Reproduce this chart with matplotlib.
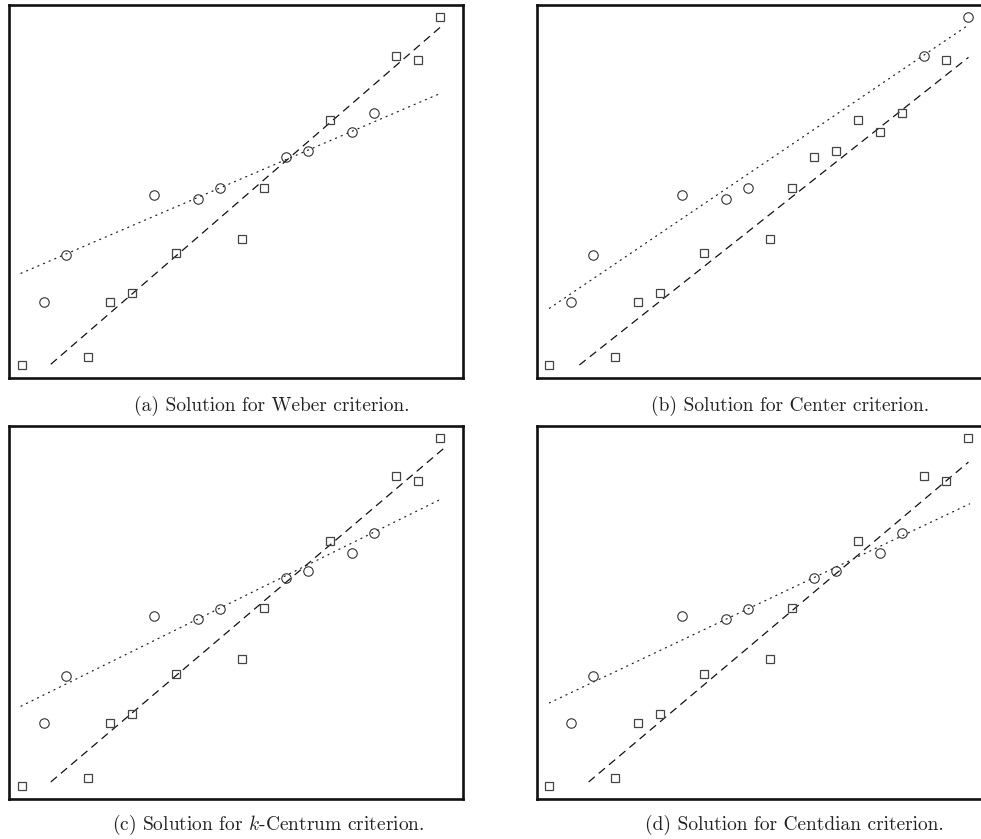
import matplotlib
matplotlib.use("Agg")
import matplotlib.pyplot as plt

plt.rcParams['mathtext.fontset'] = 'cm'
plt.rcParams['lines.scale_dashes'] = False

# ---- data ----
x_vals = [1, 2, 3, 4, 5, 6, 7, 8, 9, 10, 11, 12, 13, 14, 15, 16, 17, 18, 19, 20]
y_vals = [0.0, 3.64, 6.32, 0.48, 3.64, 4.12, 9.77, 6.42, 9.56, 10.16,
          7.26, 10.19, 11.94, 12.32, 14.08, 13.37, 14.50, 17.78, 17.53, 19.98]

# cluster membership per panel: 'o' = circle group, 's' = square group
groups_weber = ['s', 'o', 'o', 's', 's', 's', 'o', 's', 'o', 'o',
                's', 's', 'o', 'o', 's', 'o', 'o', 's', 's', 's']
groups_center = ['s', 'o', 'o', 's', 's', 's', 'o', 's', 'o', 'o',
                 's', 's', 's', 's', 's', 's', 's', 'o', 's', 'o']
groups_kcentrum = ['s', 'o', 'o', 's', 's', 's', 'o', 's', 'o', 'o',
                   's', 's', 'o', 'o', 's', 'o', 'o', 's', 's', 's']
groups_centdian = ['s', 'o', 'o', 's', 's', 's', 'o', 's', 'o', 'o',
                   's', 's', 'o', 'o', 's', 'o', 'o', 's', 's', 's']

# fitted lines (x endpoints, y endpoints)
weber_dotted_x, weber_dotted_y = [0.97, 19.91], [5.27, 15.56]
weber_dashed_x, weber_dashed_y = [2.32, 20.17], [0.04, 19.60]
center_dotted_x, center_dotted_y = [1.00, 20.02], [3.26, 19.54]
center_dashed_x, center_dashed_y = [2.36, 20.02], [0.00, 17.68]
kcentrum_dotted_x, kcentrum_dotted_y = [0.97, 19.96], [4.58, 16.42]
kcentrum_dashed_x, kcentrum_dashed_y = [2.32, 20.17], [0.23, 19.39]
centdian_dotted_x, centdian_dotted_y = [1.00, 20.07], [4.77, 16.19]
centdian_dashed_x, centdian_dashed_y = [2.78, 20.02], [0.23, 18.59]

captions = ["(a) Solution for Weber criterion.",
            "(b) Solution for Center criterion.",
            "(c) Solution for $k$-Centrum criterion.",
            "(d) Solution for Centdian criterion."]

panels = [
    (groups_weber, weber_dotted_x, weber_dotted_y, weber_dashed_x, weber_dashed_y),
    (groups_center, center_dotted_x, center_dotted_y, center_dashed_x, center_dashed_y),
    (groups_kcentrum, kcentrum_dotted_x, kcentrum_dotted_y, kcentrum_dashed_x, kcentrum_dashed_y),
    (groups_centdian, centdian_dotted_x, centdian_dotted_y, centdian_dashed_x, centdian_dashed_y),
]

W, H = 981, 839
fig = plt.figure(figsize=(W / 100, H / 100), dpi=100)

# axes boxes in pixels: left, top, width, height
boxes = [(9, 5, 454, 373), (536.7, 5, 454, 373),
         (9, 425.5, 454, 373.5), (536.7, 425.5, 454, 373.5)]
cap_pos = [(272, 406), (790, 406), (268, 825), (794, 825)]

for (l, t, w, h), (grp, dtx, dty, dsx, dsy), cap, (cx, cy) in zip(boxes, panels, captions, cap_pos):
    ax = fig.add_axes([l / W, 1 - (t + h) / H, w / W, h / H])
    ax.plot(dtx, dty, color='#222222', lw=0.9, dashes=(0.8, 3.6),
            dash_capstyle='round', zorder=2)
    ax.plot(dsx, dsy, color='#111111', lw=0.9, dashes=(5.8, 3.8), zorder=2)
    cx_o = [x for x, g in zip(x_vals, grp) if g == 'o']
    cy_o = [y for y, g in zip(y_vals, grp) if g == 'o']
    cx_s = [x for x, g in zip(x_vals, grp) if g == 's']
    cy_s = [y for y, g in zip(y_vals, grp) if g == 's']
    ax.plot(cx_o, cy_o, linestyle='none', marker='o', markersize=6.8,
            markerfacecolor='none', markeredgecolor='#333333', markeredgewidth=0.8, zorder=3)
    ax.plot(cx_s, cy_s, linestyle='none', marker='s', markersize=6.4,
            markerfacecolor='none', markeredgecolor='#444444', markeredgewidth=0.9, zorder=3)
    ax.set_xlim(0.4235, 21.03)
    ax.set_ylim(-0.747, 20.69)
    ax.set_xticks([])
    ax.set_yticks([])
    for sp in ax.spines.values():
        sp.set_linewidth(1.9)
        sp.set_color('#111111')
    fig.text(cx / W, 1 - cy / H, cap, ha='center', va='center',
             fontsize=14, family='cmr10', color='#222222')

fig.savefig('out.png', dpi=100)
